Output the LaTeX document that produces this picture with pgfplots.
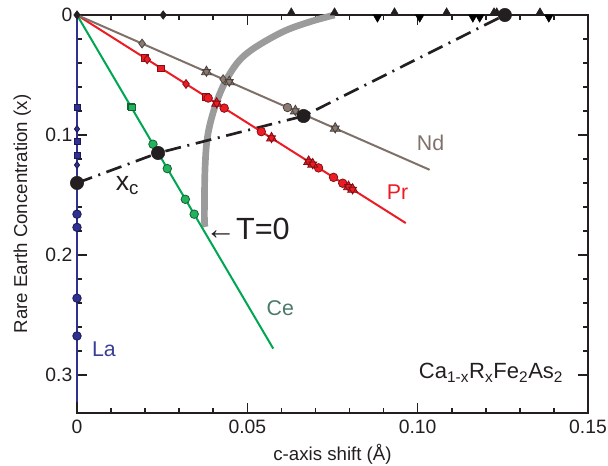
\documentclass[border=0pt]{standalone}
\usepackage{fontspec}
\setmainfont{Liberation Sans}
\usepackage{pgfplots}
\pgfplotsset{compat=1.18}

\definecolor{laBlue}{HTML}{2E3192}
\definecolor{laText}{HTML}{3A3F96}
\definecolor{ceGreen}{HTML}{00A651}
\definecolor{ceMark}{HTML}{22B35C}
\definecolor{ceText}{HTML}{4B7A6B}
\definecolor{prRed}{HTML}{ED1C24}
\definecolor{ndFill}{HTML}{8A7A72}
\definecolor{ndLine}{HTML}{80706A}
\definecolor{tGray}{HTML}{9B9B9B}
\definecolor{ink}{HTML}{231F20}

% triangle up + triangle down, as in the source
\pgfdeclareplotmark{hexa}{%
  \pgfpathmoveto{\pgfqpointpolar{90}{\pgfplotmarksize}}%
  \pgfpathlineto{\pgfqpointpolar{210}{\pgfplotmarksize}}%
  \pgfpathlineto{\pgfqpointpolar{330}{\pgfplotmarksize}}%
  \pgfpathclose
  \pgfpathmoveto{\pgfqpointpolar{270}{0.8\pgfplotmarksize}}%
  \pgfpathlineto{\pgfqpointpolar{30}{0.8\pgfplotmarksize}}%
  \pgfpathlineto{\pgfqpointpolar{150}{0.8\pgfplotmarksize}}%
  \pgfpathclose
  \pgfusepathqfillstroke}

\pgfplotsset{
  dot/.style={only marks, mark size=3.2pt, mark options={draw=#1!55!black, line width=0.6pt, fill=#1}},
  blk/.style={only marks, mark size=3.6pt, mark options={fill=ink, draw=ink}},
}

\begin{document}
\begin{tikzpicture}
\path[use as bounding box] (-57.75pt,-39.75pt) rectangle (398.25pt,309.75pt);
\begin{axis}[at={(191.625pt,149.25pt)}, anchor=center,
  scale only axis, width=383.25pt, height=298.5pt,
  xmin=0, xmax=0.15, ymin=0, ymax=0.3317, y dir=reverse,
  clip=false,
  axis line style={line width=1.6pt, ink},
  xtick={0,0.05,0.10,0.15}, xticklabels={0,0.05,0.10,0.15},
  ytick={0,0.1,0.2,0.3}, yticklabels={0,0.1,0.2,0.3},
  minor x tick num=4, minor y tick num=4,
  tick align=inside,
  major tick length=7.5pt, minor tick length=3.8pt,
  every tick/.style={line width=1.2pt, ink},
  tick label style={font=\fontsize{14.5}{16}\selectfont, text=ink},
  xticklabel style={yshift=-2pt},
  label style={font=\fontsize{14}{16}\selectfont, text=ink},
  xlabel={c-axis shift (Å)},
  ylabel={Rare Earth Concentration (x)},
  xlabel style={at={(axis description cs:0.5,0)}, anchor=center, yshift=-31pt},
  ylabel style={at={(axis description cs:0,0.5)}, anchor=center, yshift=41pt},
]

% T=0 boundary
\addplot[tGray, line width=5pt, smooth, tension=0.6] coordinates {
  (0.0376,0.1767) (0.0374,0.168) (0.0376,0.1267) (0.0385,0.0983)
  (0.0412,0.0708) (0.0450,0.0483) (0.0500,0.0317) (0.0597,0.0150)
  (0.0680,0.0060) (0.0756,0.0000)
};

% x_c guide
\addplot[ink, line width=2pt, dash pattern=on 12pt off 5pt on 1.5pt off 5pt] coordinates {
  (0,0.140) (0.0238,0.115) (0.0665,0.0842) (0.1256,0)
};

% lines for each rare earth
\addplot[laBlue, line width=1.8pt] coordinates {(0,0) (0,0.3225)};
\addplot[ceGreen, line width=1.5pt] coordinates {(0,0) (0.0576,0.278)};
\addplot[prRed, line width=1.5pt] coordinates {(0,0) (0.0965,0.1734)};
\addplot[ndLine, line width=1.5pt] coordinates {(0,0) (0.1035,0.129)};

% La
\addplot[dot=laBlue, mark=square*, mark size=2.2pt] coordinates {(0,0.0767) (0,0.105) (0,0.1167)};
\addplot[dot=laBlue, mark=diamond*, mark size=2.6pt] coordinates {(0,0.095) (0,0.125)};
\addplot[dot=laBlue, mark=*] coordinates {(0,0.166) (0,0.177) (0,0.236) (0,0.2675)};

% Ce
\addplot[dot=ceMark, mark=square*, mark size=2.4pt] coordinates {(0.0158,0.0764) (0.0161,0.0772)};
\addplot[dot=ceMark, mark=*] coordinates {(0.0223,0.1077) (0.0265,0.128) (0.0318,0.1536) (0.0344,0.166)};

% Pr
\addplot[dot=prRed, mark=square*, mark size=2.5pt] coordinates {(0.0200,0.0360) (0.0247,0.0444) (0.0379,0.0681)};
\addplot[dot=prRed, mark=diamond*, mark size=3.3pt] coordinates {(0.0206,0.0370) (0.0320,0.0575)};
\addplot[dot=prRed, mark=*] coordinates {(0.0385,0.0692) (0.0432,0.0776) (0.0541,0.0972)
  (0.0709,0.1274) (0.0753,0.1353) (0.0780,0.1402)};
\addplot[dot=prRed, mark=hexa, mark size=4.3pt] coordinates {(0.0410,0.0737) (0.0571,0.1026)
  (0.0680,0.1222) (0.0692,0.1244) (0.0797,0.1432) (0.0809,0.1454)};

% Nd
\addplot[dot=ndFill, mark=diamond*, mark size=3.3pt] coordinates {(0.0191,0.0238) (0.0429,0.0535)};
\addplot[dot=ndFill, mark=*] coordinates {(0.0618,0.0771)};
\addplot[dot=ndFill, mark=hexa, mark size=4.3pt] coordinates {(0.0380,0.0474) (0.0447,0.0557)
  (0.0641,0.0800) (0.0758,0.0945)};

% x = 0 compounds on the top axis
\addplot[blk, mark=diamond*, mark size=3.2pt] coordinates {(0,0) (0.0253,0)};
\addplot[blk, mark=triangle*] coordinates {(0.0629,-0.002) (0.0756,-0.002) (0.0932,-0.002)
  (0.1085,-0.002) (0.1224,-0.002) (0.1232,-0.002) (0.1359,-0.002)};
\addplot[blk, mark=triangle*, mark options={rotate=180}] coordinates {(0.0882,0.002)
  (0.1006,0.002) (0.1162,0.002) (0.1182,0.002) (0.1385,0.002)};

% critical concentrations
\addplot[only marks, mark=*, mark size=5pt, mark options={fill=ink, draw=ink}] coordinates {
  (0,0.140) (0.0238,0.115) (0.0665,0.0842) (0.1256,0)
};

% labels
\node[anchor=base west, font=\fontsize{20}{22}\selectfont, text=ink] at (axis cs:0.0100,0.146) {x\textsubscript{c}};
\node[anchor=west, font=\fontsize{23}{26}\selectfont, text=ink, inner sep=0pt] at (axis cs:0.0376,0.178) {←T=0};
\node[font=\fontsize{16}{18}\selectfont, text=ndLine] at (axis cs:0.1038,0.1067) {Nd};
\node[font=\fontsize{16}{18}\selectfont, text=prRed] at (axis cs:0.0941,0.1475) {Pr};
\node[font=\fontsize{16}{18}\selectfont, text=ceText] at (axis cs:0.0597,0.244) {Ce};
\node[font=\fontsize{16}{18}\selectfont, text=laText] at (axis cs:0.0079,0.279) {La};
\node[anchor=base west, inner sep=0pt, font=\fontsize{16.5}{19}\selectfont, text=ink] at (axis cs:0.1003,0.303)
  {Ca\textsubscript{1-x}R\textsubscript{x}Fe\textsubscript{2}As\textsubscript{2}};
\end{axis}
\end{tikzpicture}
\end{document}
